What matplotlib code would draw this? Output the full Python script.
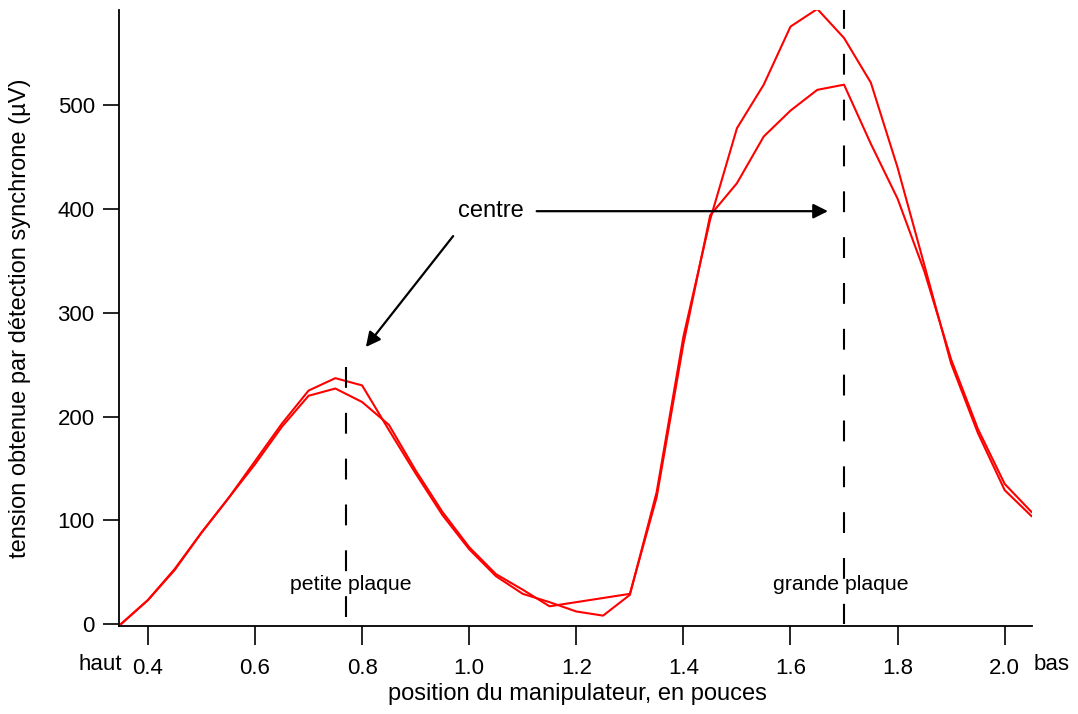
"""
Signal de détection synchrone en fonction de la position du manipulateur.
"""
import matplotlib

matplotlib.use("Agg")
import matplotlib.pyplot as plt

# série 1 (pic haut sur la petite plaque)
pos_a = [0.35, 0.40, 0.45, 0.50, 0.55, 0.60, 0.65, 0.70, 0.75, 0.80, 0.85, 0.90,
         0.95, 1.00, 1.05, 1.10, 1.15, 1.20, 1.25, 1.30, 1.35, 1.40, 1.45, 1.50,
         1.55, 1.60, 1.65, 1.70, 1.75, 1.80, 1.85, 1.90, 1.95, 2.00, 2.05]
tension_a = [0, 23, 52, 88, 121, 157, 193, 225, 237, 230, 187, 145,
             105, 72, 46, 29, 21, 12, 8, 28, 127, 277, 390, 478,
             520, 576, 593, 565, 522, 440, 346, 251, 184, 129, 104]

# série 2 (pas de mesure à 1.20 et 1.25)
pos_b = [0.35, 0.40, 0.45, 0.50, 0.55, 0.60, 0.65, 0.70, 0.75, 0.80, 0.85, 0.90,
         0.95, 1.00, 1.05, 1.10, 1.15, 1.30, 1.35, 1.40, 1.45, 1.50,
         1.55, 1.60, 1.65, 1.70, 1.75, 1.80, 1.85, 1.90, 1.95, 2.00, 2.05]
tension_b = [0, 23, 53, 88, 121, 154, 190, 220, 227, 214, 192, 148,
             108, 74, 48, 33, 17, 29, 122, 270, 394, 425,
             470, 495, 515, 520, 463, 410, 340, 255, 188, 135, 108]

x_ticks = [0.4, 0.6, 0.8, 1.0, 1.2, 1.4, 1.6, 1.8, 2.0]
y_ticks = [0, 100, 200, 300, 400, 500]

centre_petite = 0.77
centre_grande = 1.70

plt.rcParams["font.family"] = ["Liberation Sans", "DejaVu Sans"]

fig = plt.figure(figsize=(10.78, 7.14), dpi=100)
ax = fig.add_axes([119 / 1078, 1 - 626 / 714, (1032 - 119) / 1078, (626 - 10) / 714])

ax.plot(pos_a, tension_a, color="red", linewidth=1.5)
ax.plot(pos_b, tension_b, color="red", linewidth=1.5)

dash = (0, (10, 12))
ax.plot([centre_petite, centre_petite], [248, 0], color="black", linewidth=1.5, linestyle=dash)
ax.plot([centre_grande, centre_grande], [594, 0], color="black", linewidth=1.5, linestyle=dash)

ax.text(centre_petite + 0.009, 38, "petite plaque", ha="center", va="center", fontsize=15.3)
ax.text(centre_grande - 0.006, 38, "grande plaque", ha="center", va="center", fontsize=15.3)

ax.text(1.040, 398, "centre", ha="center", va="center", fontsize=17)
arrow = dict(arrowstyle="-|>", color="black", linewidth=1.6, mutation_scale=22,
             shrinkA=0, shrinkB=0)
ax.annotate("", xy=(1.670, 398), xytext=(1.126, 398), arrowprops=arrow)
ax.annotate("", xy=(0.807, 267), xytext=(0.970, 374), arrowprops=arrow)

ax.set_xlim(0.346, 2.051)
ax.set_ylim(-2, 592)
ax.set_xticks(x_ticks)
ax.set_xticklabels([f"{v:.1f}" for v in x_ticks])
ax.set_yticks(y_ticks)

for side in ("top", "right"):
    ax.spines[side].set_visible(False)
for side in ("left", "bottom"):
    ax.spines[side].set_linewidth(1.3)
    ax.spines[side].set_clip_on(False)

ax.tick_params(axis="x", direction="out", length=14, width=1.2, pad=9, labelsize=16)
ax.tick_params(axis="y", direction="out", length=11.5, width=1.2, pad=6, labelsize=16)

fig.text(100 / 1078, 1 - 665 / 714, "haut", ha="center", va="center", fontsize=16)
fig.text(1052 / 1078, 1 - 665 / 714, "bas", ha="center", va="center", fontsize=16)
fig.text(577 / 1078, 1 - 694 / 714, "position du manipulateur, en pouces",
         ha="center", va="center", fontsize=17)
fig.text(20 / 1078, 1 - 318 / 714, "tension obtenue par détection synchrone (µV)",
         ha="center", va="center", rotation=90, fontsize=17)

fig.savefig("out.png", dpi=100)
